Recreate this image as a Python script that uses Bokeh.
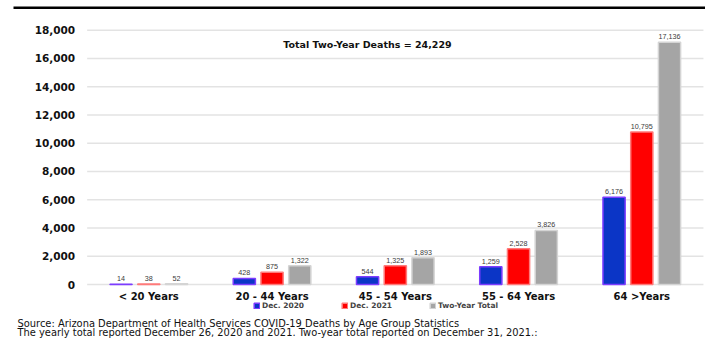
from bokeh.plotting import figure
from bokeh.models import (ColumnDataSource, Range1d, FixedTicker, LinearAxis,
                          NumeralTickFormatter, Label, Legend, LegendItem, BoxAnnotation)
from bokeh.transform import dodge
from bokeh.core.properties import value
from bokeh.embed import file_html
from bokeh.resources import INLINE

# COVID-19 deaths in Arizona by age group
age_groups = ["< 20 Years", "20 - 44 Years", "45 - 54 Years", "55 - 64 Years", "64 >Years"]
dec_2020 = [14, 428, 544, 1259, 6176]
dec_2021 = [38, 875, 1325, 2528, 10795]
two_year_total = [52, 1322, 1893, 3826, 17136]
series_names = ["Dec. 2020", "Dec. 2021", "Two-Year Total"]
total_two_year_deaths = 24229
y_ticks = [0, 2000, 4000, 6000, 8000, 10000, 12000, 14000, 16000, 18000]
notes = [
    "Source: Arizona Department of Health Services COVID-19 Deaths by Age Group Statistics",
    "The yearly total reported December 26, 2020 and 2021.  Two-year total reported on December 31, 2021.:",
]

W, H = 705, 339
group_pos = list(range(len(age_groups)))
x_lo, x_hi = -0.5, len(age_groups) - 0.5   # extent of the bar area

src = ColumnDataSource(dict(
    pos=group_pos,
    d2020=dec_2020, d2021=dec_2021, dtot=two_year_total,
    d2020_lbl=[f"{v:,}" for v in dec_2020],
    d2021_lbl=[f"{v:,}" for v in dec_2021],
    dtot_lbl=[f"{v:,}" for v in two_year_total],
))

# the frame fills the whole canvas; axes are pinned inside it
p = figure(width=W, height=H, x_range=Range1d(-1.2032, 4.5169), y_range=Range1d(-3892, 20099),
           output_backend="svg", toolbar_location=None, min_border=0,
           x_axis_location=None, y_axis_location=None)
p.outline_line_color = None
p.border_fill_color = "white"
p.background_fill_color = "white"
p.grid.grid_line_color = None

# horizontal gridlines across the bar area
p.segment(x0=x_lo, x1=x_hi, y0=y_ticks, y1=y_ticks, line_color="#e3e3e3", line_width=1.5)

yaxis = LinearAxis(fixed_location=x_lo, ticker=FixedTicker(ticks=y_ticks),
                   formatter=NumeralTickFormatter(format="0,0"))
yaxis.axis_line_color = None
yaxis.major_tick_line_color = None
yaxis.minor_tick_line_color = None
yaxis.major_label_standoff = 6
yaxis.major_label_text_font = "DejaVu Sans"
yaxis.major_label_text_font_style = "bold"
yaxis.major_label_text_font_size = "10.5px"
yaxis.major_label_text_color = "#111111"
p.add_layout(yaxis, "left")

xaxis = LinearAxis(fixed_location=0, ticker=FixedTicker(ticks=group_pos),
                   major_label_overrides={i: g for i, g in zip(group_pos, age_groups)})
xaxis.axis_line_color = None
xaxis.major_tick_line_color = None
xaxis.minor_tick_line_color = None
xaxis.major_label_standoff = 0
xaxis.major_label_text_font = "DejaVu Sans"
xaxis.major_label_text_font_style = "bold"
xaxis.major_label_text_font_size = "10px"
xaxis.major_label_text_color = "#111111"
p.add_layout(xaxis, "below")

series = [
    ("d2020", "d2020_lbl", -0.225, "#0b35c6", "#7d3cff"),
    ("d2021", "d2021_lbl", 0.0, "#ff0000", "#ff7a7a"),
    ("dtot", "dtot_lbl", 0.225, "#a5a5a5", "#d4d4d4"),
]

renderers = []
for col, lbl, off, fill, line in series:
    r = p.vbar(x=dodge("pos", off), top=col, width=0.18, source=src,
               fill_color=fill, line_color=line, line_width=1.5)
    renderers.append(r)
    p.text(x=dodge("pos", off), y=col, text=lbl, source=src,
           y_offset=-3, text_align="center", text_baseline="bottom",
           text_font=value("Liberation Sans"), text_font_size="7.2px", text_color="#3a3a3a")

legend = Legend(
    items=[LegendItem(label=n, renderers=[r]) for n, r in zip(series_names, renderers)],
    orientation="horizontal", location=(253, 29),
    background_fill_alpha=0, border_line_color=None, padding=0, margin=0,
    glyph_width=7, glyph_height=7, label_standoff=2, label_width=79, spacing=0,
    label_text_font="DejaVu Sans", label_text_font_style="bold",
    label_text_font_size="7.5px", label_height=8,
)
p.add_layout(legend)

# heavy rule along the top
p.add_layout(BoxAnnotation(left=13, right=W, top=6, bottom=8.5,
                           left_units="canvas", right_units="canvas",
                           top_units="canvas", bottom_units="canvas",
                           fill_color="black", fill_alpha=1, line_color=None))

p.add_layout(Label(x=367, y=44, x_units="canvas", y_units="canvas",
                   text=f"Total Two-Year Deaths = {total_two_year_deaths:,}",
                   text_align="center", text_baseline="middle",
                   text_font="DejaVu Sans", text_font_style="bold",
                   text_font_size="9.5px", text_color="#111111"))

for i, t in enumerate(notes):
    p.add_layout(Label(x=17, y=322.5 + 9.5 * i, x_units="canvas", y_units="canvas",
                       text=t, text_align="left", text_baseline="alphabetic",
                       text_font="DejaVu Sans", text_font_size="9.9px",
                       text_color="#111111"))

open("out.html", "w").write(file_html(p, INLINE))
